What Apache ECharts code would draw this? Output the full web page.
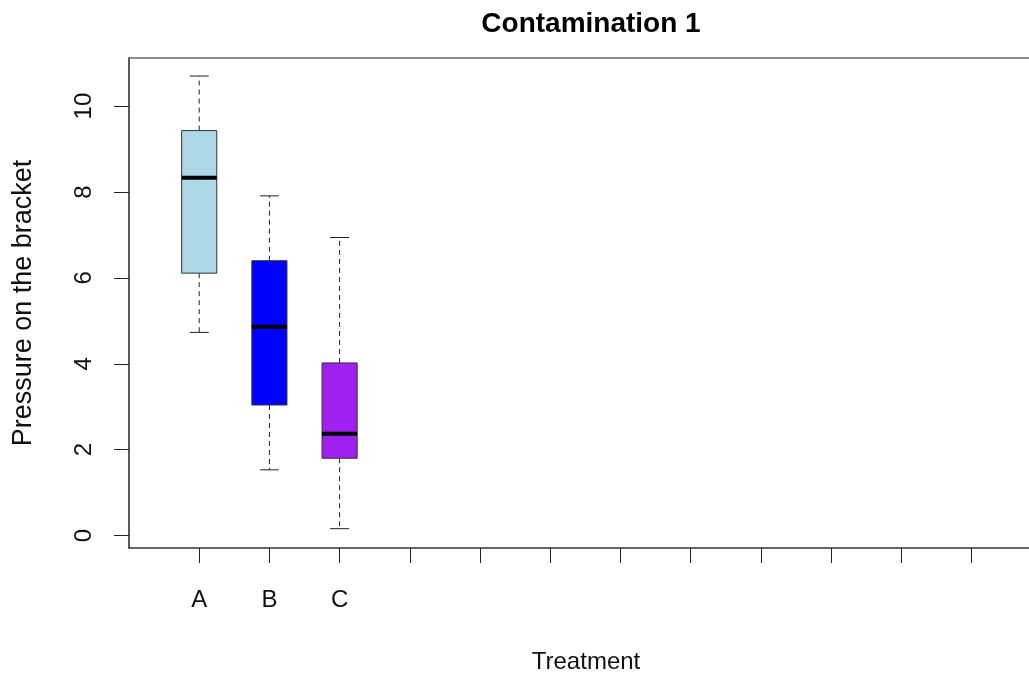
<!DOCTYPE html>
<html>
<head>
<meta charset="utf-8">
<script src="https://cdn.jsdelivr.net/npm/echarts@6/dist/echarts.min.js"></script>
<style>
  html, body { margin: 0; padding: 0; background: #fff; }
  #chart { width: 1029px; height: 676px; }
</style>
</head>
<body>
<div id="chart"></div>
<script>
// treatment slots on the x axis (only the first three have data)
const categories = ['A', 'B', 'C', '', '', '', '', '', '', '', '', '']
const tickValues = [1, 2, 3, 4, 5, 6, 7, 8, 9, 10, 11, 12]
const yTicks = [0, 2, 4, 6, 8, 10]

// five-number summaries
const lowerWhisker = [4.73, 1.53, 0.16]
const lowerQuartile = [6.11, 3.04, 1.80]
const medians = [8.33, 4.86, 2.37]
const upperQuartile = [9.43, 6.40, 4.02]
const upperWhisker = [10.70, 7.91, 6.94]
const boxColors = ['#ADD8E6', '#0000FF', '#A020F0']

const font = 'Liberation Sans, Arial, Helvetica, sans-serif'

const chart = echarts.init(document.getElementById('chart'))

const boxData = medians.map((m, i) => [i + 1, lowerWhisker[i], lowerQuartile[i], m, upperQuartile[i], upperWhisker[i]])

// R style boxplot: dashed whiskers, short staples, thick median
function renderBox(params, api) {
  const x = api.value(0)
  const low = api.coord([x, api.value(1)])
  const q1 = api.coord([x, api.value(2)])
  const med = api.coord([x, api.value(3)])
  const q3 = api.coord([x, api.value(4)])
  const high = api.coord([x, api.value(5)])
  const boxW = api.size([0.5, 0])[0]
  const capW = api.size([0.27, 0])[0]
  const cx = q1[0]
  const dash = { stroke: '#222', lineWidth: 1, lineDash: [5, 4] }
  const solid = { stroke: '#222', lineWidth: 1 }
  return {
    type: 'group',
    children: [
      { type: 'line', shape: { x1: cx, y1: q3[1], x2: cx, y2: high[1] }, style: dash },
      { type: 'line', shape: { x1: cx, y1: q1[1], x2: cx, y2: low[1] }, style: dash },
      { type: 'line', shape: { x1: cx - capW / 2, y1: high[1], x2: cx + capW / 2, y2: high[1] }, style: solid },
      { type: 'line', shape: { x1: cx - capW / 2, y1: low[1], x2: cx + capW / 2, y2: low[1] }, style: solid },
      {
        type: 'rect',
        shape: { x: cx - boxW / 2, y: q3[1], width: boxW, height: q1[1] - q3[1] },
        style: { fill: boxColors[params.dataIndex], stroke: '#333', lineWidth: 1 }
      },
      { type: 'line', shape: { x1: cx - boxW / 2, y1: med[1], x2: cx + boxW / 2, y2: med[1] }, style: { stroke: '#000', lineWidth: 4 } }
    ]
  }
}

const option = {
  backgroundColor: '#fff',
  animation: false,
  title: {
    text: 'Contamination 1',
    left: 586,
    textAlign: 'center',
    top: 5,
    textStyle: { fontFamily: font, fontSize: 28, fontWeight: 'bold', color: '#000' }
  },
  grid: {
    left: 129,
    right: 0,
    top: 58,
    bottom: 128,
    containLabel: false,
    outerBoundsMode: 'none'
  },
  xAxis: [
    {
      type: 'value',
      min: 0,
      max: 12.82,
      name: 'Treatment',
      nameLocation: 'middle',
      nameGap: 102,
      nameTextStyle: { fontFamily: font, fontSize: 24, color: '#111', padding: [0, 0, 0, 14] },
      axisLine: { show: true, onZero: false, lineStyle: { color: '#333', width: 1.5 } },
      splitLine: { show: false },
      axisTick: { show: true, length: 15, customValues: tickValues, lineStyle: { color: '#222', width: 1 } },
      axisLabel: {
        customValues: [1, 2, 3],
        formatter: v => categories[v - 1],
        margin: 40,
        fontFamily: font,
        fontSize: 24,
        color: '#111'
      }
    },
    {
      // top edge of the plot frame
      type: 'value',
      position: 'top',
      min: 0,
      max: 12.82,
      axisLine: { show: true, onZero: false, lineStyle: { color: '#666', width: 1.5 } },
      axisTick: { show: false },
      axisLabel: { show: false },
      splitLine: { show: false }
    }
  ],
  yAxis: {
    type: 'value',
    min: -0.29,
    max: 11.12,
    name: 'Pressure on the bracket',
    nameLocation: 'middle',
    nameGap: 92,
    nameTextStyle: { fontFamily: font, fontSize: 27, color: '#111' },
    axisLine: { show: true, onZero: false, lineStyle: { color: '#222', width: 1.5 } },
    splitLine: { show: false },
    axisTick: { show: true, length: 15, customValues: yTicks, lineStyle: { color: '#222', width: 1 } },
    axisLabel: {
      customValues: yTicks,
      rotate: 90,
      margin: 33,
      fontFamily: font,
      fontSize: 24,
      color: '#111'
    }
  },
  series: [
    {
      type: 'custom',
      xAxisIndex: 0,
      renderItem: renderBox,
      encode: { x: 0, y: [1, 2, 3, 4, 5] },
      data: boxData
    }
  ]
}

chart.setOption(option)
</script>
</body>
</html>
